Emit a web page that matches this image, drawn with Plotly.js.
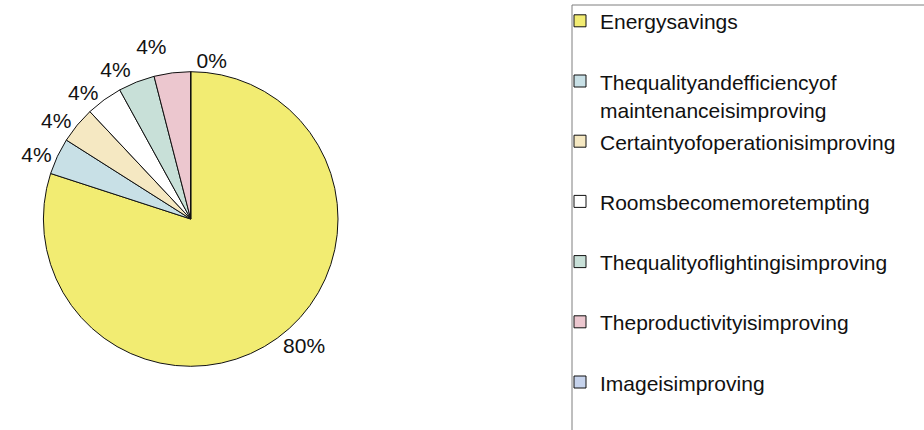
<!DOCTYPE html>
<html>
<head>
<meta charset="utf-8">
<script src="https://cdn.plot.ly/plotly-3.0.1.min.js"></script>
<style>
html,body{margin:0;padding:0;background:#fff;}
#chart{width:924px;height:430px;}
#chart .textline{display:none !important;}
</style>
</head>
<body>
<div id="chart"></div>
<script>
// Data
var categories = [
  "Energysavings",
  "Thequalityandefficiencyof<br>maintenanceisimproving",
  "Certaintyofoperationisimproving",
  "Roomsbecomemoretempting",
  "Thequalityoflightingisimproving",
  "Theproductivityisimproving",
  "Imageisimproving"
];
var values = [80, 4, 4, 4, 4, 4, 0];
var sliceColors = ["#F2EC72", "#C8E0E6", "#F5E8C2", "#FFFFFF", "#C8E0D8", "#ECC7CF", "#C6D3EC"];

// Legend labels: slightly smaller text than the line pitch, and single-line
// entries get an empty second line so the rows are spaced like the reference
var legendLabels = categories.map(function (c) {
  var parts = c.split("<br>");
  if (parts.length === 1) parts.push("\u00A0");
  return parts.map(function (p) {
    return '<span style="font-size:21px">' + p + '</span>';
  }).join("<br>");
});

var W = 924, H = 430;
var cx = 190.7, cy = 219, r = 147.3;

var trace = {
  type: "pie",
  labels: legendLabels,
  values: values,
  sort: false,
  direction: "clockwise",
  rotation: 0,
  textinfo: "percent",
  textposition: "outside",
  outsidetextfont: {family: "Liberation Sans, Arial, sans-serif", size: 21, color: "#111"},
  marker: {colors: sliceColors, line: {color: "#111", width: 1}},
  domain: {
    x: [(cx - r) / W, (cx + r) / W],
    y: [1 - (cy + r) / H, 1 - (cy - r) / H]
  },
  hoverinfo: "label+percent"
};

var layout = {
  width: W,
  height: H,
  margin: {l: 0, r: 0, t: 0, b: 0},
  paper_bgcolor: "#fff",
  showlegend: true,
  font: {family: "Liberation Sans, Arial, sans-serif", color: "#111"},
  legend: {
    x: 560 / W, xanchor: "left",
    y: 1.0, yanchor: "top",
    font: {family: "Liberation Sans, Arial, sans-serif", size: 22, color: "#111"},
    bgcolor: "rgba(0,0,0,0)",
    borderwidth: 0,
    valign: "top",
    traceorder: "normal"
  },
  shapes: [{
    type: "rect", xref: "paper", yref: "paper",
    x0: 572 / W, x1: 1.05, y0: -0.05, y1: 1 - 5 / H,
    line: {color: "#7f7f7f", width: 1}, fillcolor: "rgba(0,0,0,0)"
  }]
};

Plotly.newPlot("chart", [trace], layout, {displayModeBar: false, staticPlot: true});
</script>
</body>
</html>
